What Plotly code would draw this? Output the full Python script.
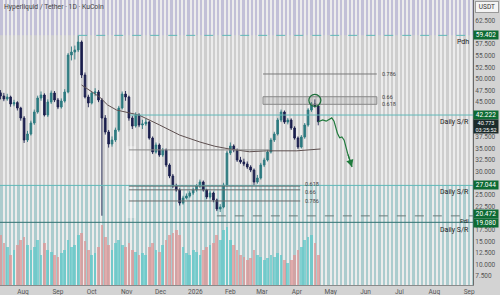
import plotly.graph_objects as go
import pandas as pd

# ---------------- data ----------------
candle_start = "2025-07-12"
candle_step = "3D"
opens = [47.00, 46.32, 45.68, 46.11, 44.60, 44.90, 43.73, 41.58, 36.83, 38.13,
         40.50, 42.87, 45.89, 46.54, 42.22, 45.03, 46.97, 45.46, 43.95, 45.24,
         47.19, 55.17, 55.81, 56.25, 57.97, 50.85, 46.11, 44.81, 46.97, 47.19,
         45.46, 41.58, 38.56, 35.97, 36.83, 38.99, 43.73, 46.75, 46.11, 41.58,
         39.85, 42.22, 40.07, 40.30, 40.71, 37.26, 34.24, 35.75, 33.60, 34.68,
         31.44, 29.07, 26.91, 26.05, 23.24, 24.32, 24.75, 25.40, 26.05, 26.91,
         27.77, 26.05, 24.54, 25.40, 23.89, 21.95, 22.38, 27.12, 34.03, 35.54,
         34.68, 32.52, 32.09, 31.66, 31.01, 30.36, 27.77, 28.64, 31.44, 32.52,
         34.24, 36.83, 38.13, 41.15, 42.87, 40.71, 41.15, 39.42, 37.26, 35.32,
         37.48, 40.07, 43.30, 44.60, 44.16]
highs = [47.6, 47.0, 46.8, 46.4, 45.5, 45.2, 44.0, 42.0, 38.8, 41.0,
         43.4, 46.4, 47.3, 46.9, 45.6, 47.5, 47.4, 45.9, 45.8, 47.8,
         55.6, 57.0, 57.2, 59.40, 58.3, 51.4, 46.6, 47.3, 48.0, 47.6,
         45.9, 42.2, 39.0, 37.6, 39.5, 44.2, 47.3, 47.4, 46.4, 42.0,
         42.8, 42.6, 41.2, 41.4, 41.0, 37.6, 36.3, 36.1, 35.1, 35.0,
         31.8, 29.5, 27.4, 26.4, 24.8, 25.3, 25.8, 26.5, 27.3, 28.3,
         28.1, 26.3, 25.8, 25.7, 24.2, 23.0, 27.6, 34.5, 36.3, 35.9,
         35.0, 33.2, 32.8, 32.2, 31.4, 30.7, 29.3, 31.9, 33.0, 34.7,
         37.3, 38.6, 41.6, 43.4, 43.2, 41.6, 41.5, 39.8, 37.6, 37.9,
         40.5, 43.7, 45.0, 45.6, 44.5]
lows = [45.6, 45.2, 45.3, 44.0, 44.1, 43.2, 41.0, 36.2, 36.4, 37.8,
        40.1, 42.5, 45.3, 41.9, 41.8, 44.6, 45.0, 43.5, 43.6, 44.9,
        46.9, 54.0, 54.2, 55.8, 50.2, 45.8, 43.9, 44.5, 46.3, 45.0,
        20.5, 38.0, 35.2, 35.4, 36.4, 38.6, 43.4, 45.3, 41.0, 39.2,
        39.5, 39.6, 39.2, 39.9, 36.9, 33.8, 33.9, 33.2, 33.2, 31.0,
        28.6, 26.5, 25.7, 22.7, 22.9, 24.0, 24.4, 25.0, 25.7, 26.5,
        25.7, 24.1, 24.2, 23.4, 21.5, 21.3, 22.1, 26.8, 33.6, 34.2,
        32.1, 31.7, 31.2, 30.6, 29.9, 27.1, 27.4, 28.3, 31.0, 32.2,
        33.9, 36.4, 37.8, 40.7, 40.3, 40.2, 39.0, 36.9, 34.9, 35.0,
        37.1, 39.7, 42.9, 43.8, 40.0]
closes = [46.32, 45.68, 46.11, 44.60, 44.90, 43.73, 41.58, 36.83, 38.13, 40.50,
          42.87, 45.89, 46.54, 42.22, 45.03, 46.97, 45.46, 43.95, 45.24, 47.19,
          55.17, 55.81, 56.25, 57.97, 50.85, 46.11, 44.81, 46.97, 47.19, 45.46,
          41.58, 38.56, 35.97, 36.83, 38.99, 43.73, 46.75, 46.11, 41.58, 39.85,
          42.22, 40.07, 40.30, 40.71, 37.26, 34.24, 35.75, 33.60, 34.68, 31.44,
          29.07, 26.91, 26.05, 23.24, 24.32, 24.75, 25.40, 26.05, 26.91, 27.77,
          26.05, 24.54, 25.40, 23.89, 21.95, 22.38, 27.12, 34.03, 35.54, 34.68,
          32.52, 32.09, 31.66, 31.01, 30.36, 27.77, 28.64, 31.44, 32.52, 34.24,
          36.83, 38.13, 41.15, 42.87, 40.71, 41.15, 39.42, 37.26, 35.32, 37.48,
          40.07, 43.30, 44.60, 44.16, 40.77]
volumes = [50, 42, 38, 30, 35, 40, 45, 48, 40, 35,
           38, 45, 30, 42, 35, 33, 30, 28, 32, 35,
           45, 38, 40, 50, 52, 44, 35, 30, 32, 38,
           60, 48, 40, 35, 42, 45, 40, 38, 42, 35,
           33, 30, 32, 30, 38, 42, 35, 33, 40, 45,
           50, 52, 55, 50, 38, 32, 30, 35, 33, 30,
           35, 38, 40, 42, 50, 45, 55, 58, 45, 40,
           35, 30, 28, 25, 27, 35, 30, 28, 25, 27,
           30, 28, 32, 30, 25, 22, 25, 30, 35, 38,
           45, 48, 50, 42, 30]

ma_dates = ["2025-09-22", "2025-09-29", "2025-10-08", "2025-10-15", "2025-10-23",
            "2025-11-03", "2025-11-12", "2025-11-30", "2025-12-18", "2026-01-05",
            "2026-01-18", "2026-01-31", "2026-02-18", "2026-03-05", "2026-04-01",
            "2026-04-22"]
ma_values = [48.7, 47.6, 46.1, 44.4, 43.3, 42.7, 42.2, 40.1, 37.9, 36.4,
             35.5, 34.9, 34.3, 34.5, 34.5, 34.9]

proj_dates = ["2026-04-20", "2026-04-24", "2026-04-27", "2026-05-02", "2026-05-04",
              "2026-05-07", "2026-05-09", "2026-05-11", "2026-05-13", "2026-05-16",
              "2026-05-20"]
proj_prices = [40.77, 41.15, 40.9, 41.6, 40.9, 38.3, 37.3, 37.5, 36.8, 34.0, 31.0]

# horizontal levels: (price, label, start date)
levels = [(59.402, "Pdh", "2025-09-19"),
          (42.222, "Daily S/R", "2025-11-04"),
          (27.044, "Daily S/R", "2025-07-11"),
          (20.472, "Pdl", "2026-01-20"),
          (19.080, "Daily S/R", "2025-07-11")]
last_price = 40.773
countdown = "03:25:52"

fib_low, fib_high = 20.472, 59.402
fib_ratios = [0.618, 0.66, 0.786]
fib_start, fib_end = "2026-03-02", "2026-06-11"

lfib_top, lfib_bottom = 38.67, 19.6
lfib_start, lfib_end = "2025-11-03", "2026-04-04"

gray_line = (34.7, "2025-11-03", "2026-03-08")

month_ticks = ["2025-08-01", "2025-09-01", "2025-10-01", "2025-11-01", "2025-12-01",
               "2026-01-01", "2026-02-01", "2026-03-01", "2026-04-01", "2026-05-01",
               "2026-06-01", "2026-07-01", "2026-08-01", "2026-09-01"]
month_labels = ["Aug", "Sep", "Oct", "Nov", "Dec", "2026", "Feb", "Mar", "Apr",
                "May", "Jun", "Jul", "Aug", "Sep"]
# axis ticks visible in the reference (the others are covered by price boxes)
price_ticks = [7.5, 10.0, 12.5, 15.0, 17.5, 22.5, 25.0, 30.0, 32.5, 35.0, 37.5,
               45.0, 47.5, 50.0, 52.5, 55.0, 57.5, 62.5]

# ---------------- figure ----------------
dates = pd.date_range(candle_start, periods=len(closes), freq=candle_step)
FONT = "Roboto"
GREEN_BOX = "#0e6b34"

vol_colors = ["rgba(222,150,150,0.75)" if c < o else "rgba(95,200,200,0.75)"
              for o, c in zip(opens, closes)]

fig = go.Figure()
fig.add_trace(go.Bar(x=dates, y=volumes, yaxis="y2", marker_color=vol_colors,
                     marker_line_width=0, width=2.4 * 86400000, showlegend=False))
fig.add_trace(go.Scatter(x=pd.to_datetime(ma_dates), y=ma_values, mode="lines",
                         line=dict(color="#5e5050", width=1), showlegend=False))
fig.add_trace(go.Candlestick(x=dates, open=opens, high=highs, low=lows, close=closes,
                             increasing=dict(line=dict(color="#2d7a80", width=0.9),
                                             fillcolor="#2d7a80"),
                             decreasing=dict(line=dict(color="#1b1f4e", width=0.9),
                                             fillcolor="#1b1f4e"),
                             whiskerwidth=0, showlegend=False))
fig.add_trace(go.Scatter(x=pd.to_datetime(proj_dates), y=proj_prices, mode="lines",
                         line=dict(color="#1f7a3c", width=1.2), showlegend=False))

shapes = []
ymin, ymax = 5.56, 67.03
# zones
shapes.append(dict(type="rect", xref="paper", x0=0, x1=1, yref="y", y0=levels[0][0], y1=ymax,
                   fillcolor="rgba(150,140,255,0.20)", line_width=0, layer="between"))
shapes.append(dict(type="rect", xref="paper", x0=0, x1=1, yref="y", y0=ymin, y1=levels[2][0],
                   fillcolor="rgba(40,200,210,0.20)", line_width=0, layer="between"))
# volume profile block
shapes.append(dict(type="rect", xref="x", x0="2025-11-01", x1="2025-11-09", yref="y",
                   y0=20.0, y1=35.5, fillcolor="rgba(255,255,255,0.30)", line_width=0,
                   layer="between"))
# levels
for p, lab, start in levels:
    dash = "dash" if lab in ("Pdh", "Pdl") else "solid"
    col = "#5fb8b8" if lab != "Pdl" else "#6a7a7a"
    if p == 19.080:
        col = "#2f6f6f"
    shapes.append(dict(type="line", xref="x", x0=start, x1="2026-09-05", yref="y", y0=p, y1=p,
                       line=dict(color=col, width=1, dash=dash), layer="above"))
# upper fib
fl = [fib_low + r * (fib_high - fib_low) for r in fib_ratios]
shapes.append(dict(type="rect", xref="x", x0=fib_start, x1=fib_end, yref="y", y0=fl[0], y1=fl[1],
                   fillcolor="rgba(130,130,130,0.18)", line=dict(color="#888888", width=1)))
shapes.append(dict(type="line", xref="x", x0=fib_start, x1=fib_end, yref="y", y0=fl[2], y1=fl[2],
                   line=dict(color="#7a7a7a", width=1)))
# lower fib
lfl = [lfib_top - r * (lfib_top - lfib_bottom) for r in fib_ratios]
for v in lfl:
    shapes.append(dict(type="line", xref="x", x0=lfib_start, x1=lfib_end, yref="y", y0=v, y1=v,
                       line=dict(color="#6a6a6a", width=1)))
shapes.append(dict(type="line", xref="x", x0=gray_line[1], x1=gray_line[2], yref="y",
                   y0=gray_line[0], y1=gray_line[0], line=dict(color="#8a8a8a", width=1)))
# circle around top
imax = max(range(len(highs)), key=lambda k: highs[k] if k > 60 else 0)
shapes.append(dict(type="circle", xref="x", yref="y", xsizemode="pixel", ysizemode="pixel",
                   xanchor=dates[imax], yanchor=highs[imax], x0=-6, x1=6, y0=-7, y1=5,
                   line=dict(color="#1f6f3c", width=1.3)))

ann = []
lab_shift = {20.472: 1, 19.080: -2}
lab_size = {20.472: 6}
for p, lab, start in levels:
    ann.append(dict(xref="paper", x=0.996, xanchor="right", yref="y", y=p, yanchor="top",
                    text=lab, showarrow=False,
                    font=dict(family=FONT, size=lab_size.get(p, 7), color="#222222"),
                    yshift=lab_shift.get(p, -1)))
fib_font = dict(family=FONT, size=5.5, color="#444")
for r, v in zip(fib_ratios, fl):
    ann.append(dict(xref="x", x=fib_end, xanchor="left", yref="y", y=v, text=str(r),
                    showarrow=False, font=fib_font, xshift=3))
lshift = [2, -2, 0]
for r, v, s in zip(fib_ratios, lfl, lshift):
    ann.append(dict(xref="x", x=lfib_end, xanchor="left", yref="y", y=v, text=str(r),
                    showarrow=False, font=fib_font, xshift=3, yshift=s))
# price boxes on axis
box_shift = {20.472: 2, 19.080: -1}
for p, lab, start in levels:
    ann.append(dict(xref="paper", x=1, xanchor="left", yref="y", y=p,
                    yshift=box_shift.get(p, 0),
                    text=f"{p:.3f}", showarrow=False, bgcolor=GREEN_BOX, width=24,
                    font=dict(family=FONT, size=6.5, color="white"), borderpad=0))
ann.append(dict(xref="paper", x=1, xanchor="left", yref="y", y=last_price, yanchor="top",
                yshift=3, text=f"{last_price:.3f}<br>{countdown}", showarrow=False,
                bgcolor="#1c2b2b", width=24, font=dict(family=FONT, size=5.5, color="white"),
                borderpad=0))
ann.append(dict(xref="paper", x=1, xanchor="left", xshift=2, yref="paper", y=1, yanchor="top",
                yshift=-1, text="USDT", showarrow=False, bgcolor="#f4f4f4",
                bordercolor="#9a9a9a", borderwidth=1, width=20,
                font=dict(family=FONT, size=6.5, color="#333")))
ann.append(dict(xref="paper", x=0.004, xanchor="left", yref="paper", y=0.995, yanchor="top",
                text="Hyperliquid / Tether · 1D · KuCoin", showarrow=False,
                font=dict(family=FONT, size=6.8, color="#444")))
# arrow head of projection
ann.append(dict(xref="x", yref="y", x=pd.to_datetime(proj_dates[-1]), y=proj_prices[-1],
                axref="x", ayref="y", ax=pd.to_datetime(proj_dates[-2]), ay=proj_prices[-2],
                showarrow=True, arrowhead=2, arrowsize=1.2, arrowwidth=1.2,
                arrowcolor="#1f7a3c", text=""))

fig.update_layout(
    width=500, height=295, margin=dict(l=0, r=27, t=0, b=10),
    paper_bgcolor="#d3d3d3", plot_bgcolor="#cecece",
    showlegend=False, bargap=0,
    shapes=shapes, annotations=ann,
    xaxis=dict(type="date", range=["2025-07-11 14:00", "2026-09-04 08:00"],
               tickmode="array", tickvals=month_ticks, ticktext=month_labels,
               tickfont=dict(family=FONT, size=6.5, color="#555"), ticks="",
               showgrid=False, showline=True, linecolor="#8a8a8a", linewidth=1,
               rangeslider=dict(visible=False), zeroline=False, fixedrange=True,
               minor=dict(tickmode="linear", tick0="2025-07-11", dtick=325728000,
                          showgrid=True, gridcolor="#ececec", gridwidth=2)),
    yaxis=dict(side="right", range=[ymin, ymax], tickmode="array", tickvals=price_ticks,
               ticktext=[f"{v:.3f}" for v in price_ticks],
               tickfont=dict(family=FONT, size=6.5, color="#555"), ticks="",
               showgrid=False, showline=True, linecolor="#6a6a6a", linewidth=1,
               zeroline=False),
    yaxis2=dict(overlaying="y", range=[0, 285], visible=False),
)

fig.write_html("out.html")
